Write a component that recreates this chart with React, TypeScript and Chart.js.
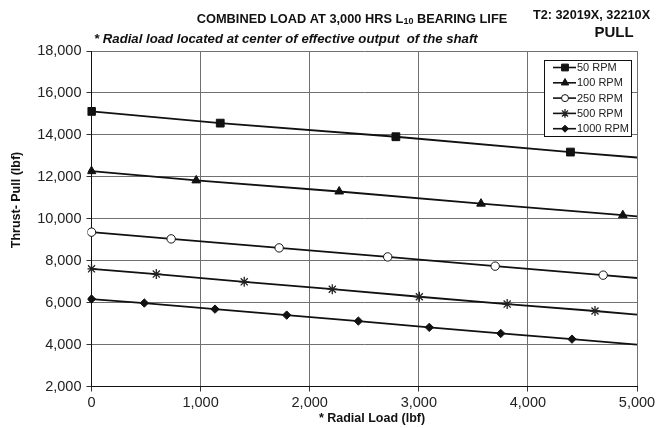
import React, { useEffect, useRef } from "react";
import { Chart, registerables } from "chart.js";
import * as helpers from "chart.js/helpers";

Chart.register(...registerables);

// Radial load (lbf) / thrust-pull (lbf) readings per speed; last entry of each is the line end at 5,000 lbf
const rpm50X = [0, 1180, 2790, 4390, 5000];
const rpm50Y = [15120, 14560, 13910, 13180, 12920];

const rpm100X = [0, 960, 2270, 3570, 4870, 5000];
const rpm100Y = [12270, 11830, 11300, 10720, 10170, 10115];

const rpm250X = [0, 730, 1720, 2715, 3700, 4690, 5000];
const rpm250Y = [9360, 9040, 8610, 8180, 7740, 7310, 7175];

const rpm500X = [0, 594, 1400, 2207, 3005, 3810, 4615, 5000];
const rpm500Y = [7610, 7360, 6990, 6640, 6280, 5930, 5600, 5430];

const rpm1000X = [0, 484, 1132, 1789, 2446, 3096, 3751, 4404, 5000];
const rpm1000Y = [6170, 5980, 5690, 5405, 5120, 4820, 4530, 4260, 4000];

const seriesLabels = ["50 RPM", "100 RPM", "250 RPM", "500 RPM", "1000 RPM"];

const xTicks = [0, 1000, 2000, 3000, 4000, 5000];
const yTicks = [2000, 4000, 6000, 8000, 10000, 12000, 14000, 16000, 18000];

const FONT = "'Liberation Sans', Arial, Helvetica, sans-serif";

type Marker = {
  pointStyle: string;
  radius: number;
  fill: string;
  stroke: string;
  width: number;
};

const markers: Marker[] = [
  { pointStyle: "rect", radius: 5.5, fill: "#111", stroke: "#111", width: 1 },
  { pointStyle: "triangle", radius: 5, fill: "#111", stroke: "#111", width: 1 },
  { pointStyle: "circle", radius: 4.2, fill: "#fff", stroke: "#111", width: 1 },
  { pointStyle: "star", radius: 5, fill: "#fff", stroke: "#222", width: 1.3 },
  { pointStyle: "rectRot", radius: 4.2, fill: "#111", stroke: "#111", width: 1 },
];

function toPoints(xs: number[], ys: number[]) {
  return xs.map((x, i) => ({ x, y: ys[i] }));
}

const fmt = (v: number) => v.toLocaleString("en-US");

const textPlugin = {
  id: "chartTexts",
  afterDraw(chart: any) {
    const ctx: CanvasRenderingContext2D = chart.ctx;
    ctx.save();
    ctx.fillStyle = "#111";
    ctx.textBaseline = "alphabetic";

    // Title with L10 subscript
    const big = `bold 12.8px ${FONT}`;
    const small = `bold 9px ${FONT}`;
    const p1 = "COMBINED LOAD AT 3,000 HRS L";
    const p2 = "10";
    const p3 = " BEARING LIFE";
    ctx.font = big;
    const w1 = ctx.measureText(p1).width;
    const w3 = ctx.measureText(p3).width;
    ctx.font = small;
    const w2 = ctx.measureText(p2).width;
    const total = w1 + w2 + w3;
    const tx = 352 - total / 2;
    const ty = 23;
    ctx.textAlign = "left";
    ctx.font = big;
    ctx.fillText(p1, tx, ty);
    ctx.font = small;
    ctx.fillText(p2, tx + w1, ty + 1);
    ctx.font = big;
    ctx.fillText(p3, tx + w1 + w2, ty);

    ctx.font = `bold 12.7px ${FONT}`;
    ctx.fillText("T2: 32019X, 32210X", 533, 19);
    ctx.font = `bold 15px ${FONT}`;
    ctx.textAlign = "center";
    ctx.fillText("PULL", 614, 37);

    ctx.textAlign = "left";
    ctx.font = `italic bold 13.2px ${FONT}`;
    ctx.fillText("* Radial load located at center of effective output  of the shaft", 94, 43);

    // Axis titles
    ctx.font = `bold 12.5px ${FONT}`;
    ctx.textAlign = "center";
    ctx.textBaseline = "middle";
    ctx.fillText("* Radial Load (lbf)", 372, 419);
    ctx.save();
    ctx.translate(17, 200);
    ctx.rotate(-Math.PI / 2);
    ctx.fillText("Thrust- Pull (lbf)", 0, 0);
    ctx.restore();

    // Legend box
    const bx = 544, by = 60, bw = 87, bh = 76;
    ctx.fillStyle = "#fff";
    ctx.fillRect(bx, by, bw, bh);
    ctx.strokeStyle = "#111";
    ctx.lineWidth = 1;
    ctx.strokeRect(bx + 0.5, by + 0.5, bw, bh);
    ctx.font = `11px ${FONT}`;
    ctx.textAlign = "left";
    ctx.textBaseline = "middle";
    seriesLabels.forEach((label, i) => {
      const y = 67.5 + i * 15.3;
      ctx.strokeStyle = "#111";
      ctx.lineWidth = 1.6;
      ctx.beginPath();
      ctx.moveTo(553, y);
      ctx.lineTo(576, y);
      ctx.stroke();
      const m = markers[i];
      ctx.fillStyle = m.fill;
      ctx.strokeStyle = m.stroke;
      ctx.lineWidth = m.width;
      helpers.drawPoint(ctx, { pointStyle: m.pointStyle, radius: m.radius - 0.7, rotation: 0, borderWidth: m.width } as any, 565, y);
      ctx.fillStyle = "#222";
      ctx.fillText(label, 577, y + 0.5);
    });
    ctx.restore();
  },
};

export default function App() {
  const canvasRef = useRef<HTMLCanvasElement | null>(null);

  useEffect(() => {
    const canvas = canvasRef.current;
    if (!canvas) return;
    const series = [
      [rpm50X, rpm50Y],
      [rpm100X, rpm100Y],
      [rpm250X, rpm250Y],
      [rpm500X, rpm500Y],
      [rpm1000X, rpm1000Y],
    ];
    const datasets = series.map(([xs, ys], i) => {
      const m = markers[i];
      return {
        label: seriesLabels[i],
        data: toPoints(xs, ys),
        borderColor: "#111",
        borderWidth: 1.8,
        pointStyle: m.pointStyle,
        pointRadius: xs.map((_, k) => (k === xs.length - 1 ? 0 : m.radius)),
        pointBackgroundColor: m.fill,
        pointBorderColor: m.stroke,
        pointBorderWidth: m.width,
        tension: 0,
        fill: false,
        clip: 4,
      };
    });

    const chart = new Chart(canvas, {
      type: "line",
      data: { datasets: datasets as any },
      options: {
        responsive: false,
        animation: false,
        events: [],
        layout: { padding: { top: 51, right: 25, left: 0, bottom: 0 } },
        plugins: {
          legend: { display: false },
          tooltip: { enabled: false },
          title: { display: false },
        },
        scales: {
          x: {
            type: "linear",
            min: 0,
            max: 5000,
            afterBuildTicks: (scale: any) => {
              scale.ticks = xTicks.map((v) => ({ value: v }));
            },
            afterFit: (scale: any) => {
              scale.height = 41.5;
            },
            ticks: {
              color: "#222",
              font: { family: FONT, size: 14.5 },
              padding: 3,
              maxRotation: 0,
              callback: (v: any) => fmt(Number(v)),
            },
            grid: { color: "#707070", lineWidth: 1, tickLength: 5, tickColor: "#333" },
            border: { color: "#111", width: 1 },
          },
          y: {
            type: "linear",
            min: 2000,
            max: 18000,
            afterBuildTicks: (scale: any) => {
              scale.ticks = yTicks.map((v) => ({ value: v }));
            },
            afterFit: (scale: any) => {
              scale.width = 91.5;
            },
            ticks: {
              color: "#222",
              font: { family: FONT, size: 14.5 },
              padding: 5,
              callback: (v: any) => fmt(Number(v)),
            },
            grid: { color: "#707070", lineWidth: 1, tickLength: 5, tickColor: "#333" },
            border: { color: "#111", width: 1 },
          },
        },
      },
      plugins: [textPlugin],
    });

    return () => chart.destroy();
  }, []);

  return (
    <div style={{ position: "absolute", left: 0, top: 0, width: 662, height: 428, background: "#fff" }}>
      <canvas ref={canvasRef} width={662} height={428} style={{ display: "block" }} />
    </div>
  );
}
